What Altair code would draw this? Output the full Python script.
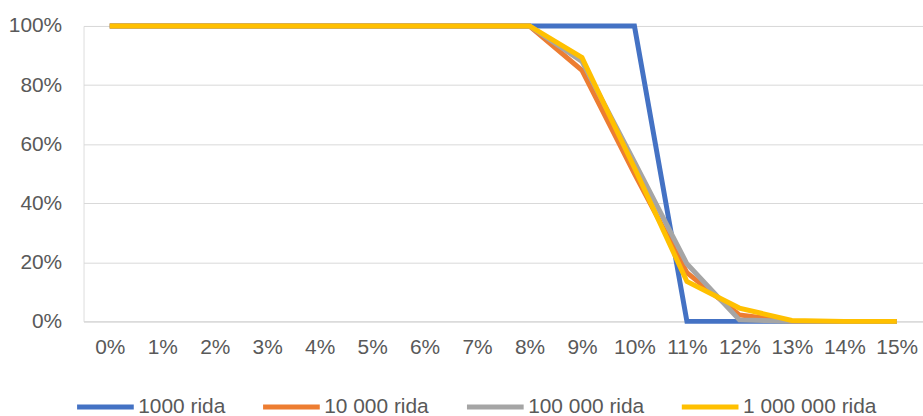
import altair as alt
import pandas as pd

categories = ["0%", "1%", "2%", "3%", "4%", "5%", "6%", "7%", "8%", "9%",
              "10%", "11%", "12%", "13%", "14%", "15%"]
series_names = ["1000 rida", "10 000 rida", "100 000 rida", "1 000 000 rida"]
s1000 = [1, 1, 1, 1, 1, 1, 1, 1, 1, 1, 1, 0, 0, 0, 0, 0]
s10000 = [1, 1, 1, 1, 1, 1, 1, 1, 1, 0.85, 0.50, 0.165, 0.022, 0, 0, 0]
s100000 = [1, 1, 1, 1, 1, 1, 1, 1, 1, 0.88, 0.54, 0.195, 0.005, 0, 0, 0]
s1000000 = [1, 1, 1, 1, 1, 1, 1, 1, 1, 0.893, 0.52, 0.135, 0.045, 0.003, 0, 0]
colors = ["#4472C4", "#ED7D31", "#A5A5A5", "#FFC000"]

rows = []
for name, vals in zip(series_names, [s1000, s10000, s100000, s1000000]):
    for c, v in zip(categories, vals):
        rows.append({"x": c, "value": v, "series": name})
df = pd.DataFrame(rows)

FONT = "Liberation Sans"
TXT = "#595959"

color = alt.Color(
    "series:N",
    scale=alt.Scale(domain=series_names, range=colors),
    legend=alt.Legend(
        title=None, orient="none", direction="horizontal",
        legendX=-9, legendY=352,
        symbolType="stroke", symbolSize=3249, symbolStrokeWidth=5,
        labelFont=FONT, labelFontSize=21, labelColor=TXT,
        labelOffset=2, columnPadding=27, padding=0,
    ),
)

layers = []
for name in series_names:
    layers.append(
        alt.Chart(df).transform_filter(alt.datum.series == name)
        .mark_line(strokeWidth=5)
        .encode(
            x=alt.X("x:N", sort=categories,
                    scale=alt.Scale(type="point", padding=0.5),
                    axis=alt.Axis(title=None, labelAngle=0, ticks=False,
                                  domainColor="#d9d9d9", domainWidth=1,
                                  labelFont=FONT, labelFontSize=21,
                                  labelColor=TXT, labelPadding=15, grid=False)),
            y=alt.Y("value:Q", scale=alt.Scale(domain=[0, 1], nice=False),
                    axis=alt.Axis(title=None, format=".0%", values=[0, 0.2, 0.4, 0.6, 0.8, 1.0],
                                  ticks=False, domain=False, gridColor="#d9d9d9",
                                  gridWidth=1, labelFont=FONT, labelFontSize=21,
                                  labelColor=TXT, labelPadding=22)),
            color=color,
        )
    )

chart = alt.layer(*layers).properties(
    width=844, height=297,
    autosize=alt.AutoSizeParams(type="none"),
    padding={"left": 84, "top": 25, "right": 0, "bottom": 94},
).configure_view(stroke=None).configure(background="white")

chart.save("out.html", embed_options={"renderer": "svg", "actions": False})
